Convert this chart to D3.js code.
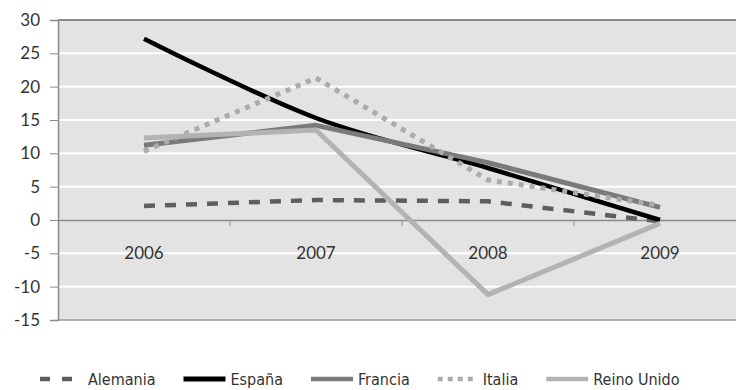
<!DOCTYPE html>
<html>
<head>
<meta charset="utf-8">
<script src="https://cdn.jsdelivr.net/npm/d3@7"></script>
<style>
  html, body { margin: 0; padding: 0; background: #fff; }
  svg { display: block; }
</style>
</head>
<body>
<svg id="chart" width="736" height="390"></svg>
<script>
// Annual change by country, 2006–2009
const years = ["2006", "2007", "2008", "2009"];
const yTicks = [-15, -10, -5, 0, 5, 10, 15, 20, 25, 30];

const alemania   = [2.1, 3.0, 2.8, -0.2];
const espana     = [27.2, 15.3, 7.8, 0.0];
const francia    = [11.2, 14.2, 8.6, 1.9];
const italia     = [10.3, 21.3, 6.0, 2.2];
const reinoUnido = [12.3, 13.5, -11.2, -0.5];

const series = [
  { name: "Alemania",    values: alemania,   color: "#5e5e5e", width: 4.5, dash: "11,10", smooth: false },
  { name: "España",      values: espana,     color: "#000000", width: 4.5, dash: null,    smooth: true  },
  { name: "Francia",     values: francia,    color: "#7a7a7a", width: 5,   dash: null,    smooth: false },
  { name: "Italia",      values: italia,     color: "#ababab", width: 5,   dash: "5,6",   smooth: false },
  { name: "Reino Unido", values: reinoUnido, color: "#b3b3b3", width: 5,   dash: null,    smooth: false }
];

const svg = d3.select("#chart");
const plot = { left: 58, right: 746, top: 20, bottom: 320 };

const x = d3.scaleBand().domain(years).range([plot.left, plot.right]);
const y = d3.scaleLinear().domain([-15, 30]).range([plot.bottom, plot.top]);

const tickFont = "Lato, 'Open Sans', sans-serif";

// plot background
svg.append("rect")
  .attr("x", plot.left).attr("y", plot.top)
  .attr("width", plot.right - plot.left).attr("height", plot.bottom - plot.top)
  .attr("fill", "#e3e3e3");

// white horizontal gridlines
svg.append("g").selectAll("line")
  .data(yTicks.filter(t => t !== 0 && t !== -15 && t !== 30))
  .join("line")
  .attr("x1", plot.left).attr("x2", plot.right)
  .attr("y1", d => y(d)).attr("y2", d => y(d))
  .attr("stroke", "#ffffff").attr("stroke-width", 2);

// frame: top and bottom border
svg.append("line")
  .attr("x1", plot.left).attr("x2", plot.right)
  .attr("y1", y(30)).attr("y2", y(30))
  .attr("stroke", "#8a8a8a").attr("stroke-width", 2);
svg.append("line")
  .attr("x1", plot.left).attr("x2", plot.right)
  .attr("y1", y(-15)).attr("y2", y(-15))
  .attr("stroke", "#9a9a9a").attr("stroke-width", 1.5);

// y axis
const yAxis = d3.axisLeft(y).tickValues(yTicks).tickSize(8).tickPadding(10)
  .tickFormat(d => String(d));
const gy = svg.append("g").attr("transform", `translate(${plot.left},0)`).call(yAxis);
gy.select(".domain").attr("stroke", "#8a8a8a").attr("stroke-width", 1.5);
gy.selectAll(".tick line").attr("stroke", "#8a8a8a");
gy.selectAll(".tick text")
  .attr("fill", "#333").style("font-family", tickFont).style("font-size", "17px");

// category axis on the zero line
const xAxis = d3.axisBottom(x).tickSize(0).tickPadding(27);
const gx = svg.append("g").attr("transform", `translate(0,${y(0)})`).call(xAxis);
gx.select(".domain").attr("stroke", "#8c8c8c").attr("stroke-width", 1.5);
gx.selectAll(".tick text")
  .attr("fill", "#333").style("font-family", tickFont).style("font-size", "17px");
// band boundary ticks
gx.append("g").selectAll("line")
  .data(years.slice(1))
  .join("line")
  .attr("x1", d => x(d)).attr("x2", d => x(d))
  .attr("y1", 0).attr("y2", 6)
  .attr("stroke", "#8c8c8c").attr("stroke-width", 1);

// series lines
const cx = (d, i) => x(years[i]) + x.bandwidth() / 2;
series.forEach(s => {
  const line = d3.line()
    .x(cx)
    .y(d => y(d))
    .curve(s.smooth ? d3.curveCardinal.tension(0) : d3.curveLinear);
  svg.append("path")
    .datum(s.values)
    .attr("d", line)
    .attr("fill", "none")
    .attr("stroke", s.color)
    .attr("stroke-width", s.width)
    .attr("stroke-dasharray", s.dash)
    .attr("stroke-linejoin", "round");
});

// legend
const legendY = 379;
const legendFont = "'DejaVu Sans Condensed', 'DejaVu Sans', sans-serif";
const legend = svg.append("g");
let lx = 40;
series.forEach(s => {
  const swatchW = s.name === "Alemania" ? 32 : (s.name === "Italia" ? 36 : 42);
  legend.append("line")
    .attr("x1", lx).attr("x2", lx + swatchW)
    .attr("y1", legendY).attr("y2", legendY)
    .attr("stroke", s.color)
    .attr("stroke-width", s.name === "España" ? 5 : 4.5)
    .attr("stroke-dasharray", s.name === "Alemania" ? "10,12" : (s.name === "Italia" ? "5,5" : null));
  const textX = lx + swatchW + (s.name === "Alemania" ? 16 : (s.name === "Italia" ? 9 : 5));
  const t = legend.append("text")
    .attr("x", textX).attr("y", legendY)
    .attr("dy", "0.36em")
    .attr("fill", "#333")
    .style("font-family", legendFont)
    .style("font-size", "16px")
    .text(s.name);
  lx = textX + t.node().getComputedTextLength() + 28;
});
</script>
</body>
</html>
